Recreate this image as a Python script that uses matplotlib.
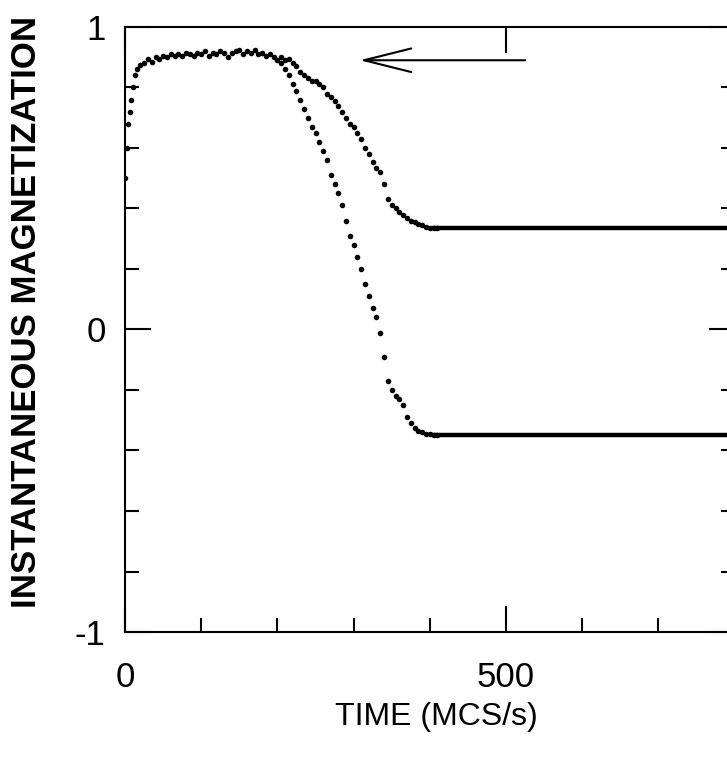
import numpy as np
import matplotlib
matplotlib.use('Agg')
import matplotlib.pyplot as plt
from matplotlib.ticker import MultipleLocator

plt.rcParams['font.family'] = ['Liberation Sans', 'DejaVu Sans']

# common part of both runs (before the field reversal separates them)
t_common = [0, 2, 4, 6, 8, 10, 13, 16, 20, 25, 30, 35, 40, 45, 50, 55, 60, 65,
            70, 75, 80, 85, 90, 95, 100, 105, 110, 115, 120, 125, 130, 135,
            140, 145, 150, 155, 160, 165, 170, 175, 180, 185, 190, 195, 200]
m_common = [0.50, 0.60, 0.68, 0.72, 0.76, 0.80, 0.84, 0.86, 0.875, 0.88, 0.895,
            0.885, 0.90, 0.895, 0.905, 0.90, 0.91, 0.905, 0.91, 0.905, 0.915,
            0.91, 0.905, 0.915, 0.91, 0.92, 0.905, 0.915, 0.91, 0.92, 0.915,
            0.90, 0.915, 0.92, 0.925, 0.91, 0.92, 0.915, 0.925, 0.91, 0.915,
            0.905, 0.91, 0.90, 0.89]

# after separation
t_split = [205, 210, 215, 220, 225, 230, 235, 240, 245, 250, 255, 260, 265,
           270, 275, 280, 285, 290, 295, 300, 305, 310, 315, 320, 325, 330,
           335, 340, 345, 350, 355, 360, 365, 370, 375, 380, 385, 390, 395,
           400, 405, 410]
m_upper = [0.90, 0.89, 0.895, 0.88, 0.87, 0.85, 0.84, 0.83, 0.82, 0.82, 0.81,
           0.80, 0.78, 0.77, 0.755, 0.74, 0.72, 0.70, 0.68, 0.67, 0.65, 0.63,
           0.60, 0.58, 0.555, 0.535, 0.52, 0.48, 0.43, 0.41, 0.40, 0.39, 0.38,
           0.37, 0.36, 0.355, 0.35, 0.345, 0.34, 0.337, 0.335, 0.335]
m_lower = [0.88, 0.86, 0.84, 0.81, 0.79, 0.76, 0.73, 0.70, 0.67, 0.65, 0.62,
           0.59, 0.56, 0.51, 0.48, 0.45, 0.41, 0.36, 0.31, 0.28, 0.24, 0.20,
           0.15, 0.11, 0.07, 0.04, -0.01, -0.09, -0.17, -0.20, -0.22, -0.23,
           -0.25, -0.29, -0.31, -0.325, -0.335, -0.34, -0.345, -0.347, -0.35,
           -0.35]

# saturated tails
t_tail = [405, 800]
m_tail_upper = [0.335, 0.335]
m_tail_lower = [-0.35, -0.35]

fig = plt.figure(figsize=(7.27, 7.62), dpi=100)
ax = fig.add_axes([0.172, 0.1706, 0.8385, 0.794])

ax.plot(t_common, m_common, 'o', color='black', ms=4, mec='none')
ax.plot(t_split, m_upper, 'o', color='black', ms=4, mec='none')
ax.plot(t_split, m_lower, 'o', color='black', ms=4, mec='none')
ax.plot(t_tail, m_tail_upper, '-', color='black', lw=3.2)
ax.plot(t_tail, m_tail_lower, '-', color='black', lw=3.2)

# arrow showing the direction of the sweep
ax.annotate('', xy=(308, 0.89), xytext=(525, 0.89),
            arrowprops=dict(arrowstyle='->,head_length=3.4,head_width=0.85',
                            lw=1.5, color='black', mutation_scale=10,
                            shrinkA=0, shrinkB=0))

ax.set_xlim(0, 800)
ax.set_ylim(-1, 1)
ax.xaxis.set_major_locator(MultipleLocator(500))
ax.xaxis.set_minor_locator(MultipleLocator(100))
ax.yaxis.set_major_locator(MultipleLocator(1))
ax.yaxis.set_minor_locator(MultipleLocator(0.2))
ax.yaxis.set_major_formatter(plt.FuncFormatter(lambda v, p: '%d' % round(v)))

ax.tick_params(which='major', direction='in', length=19, width=1.5,
               top=True, right=True, labelsize=25)
ax.tick_params(which='minor', direction='in', length=10, width=1.5,
               top=False, right=True)
ax.tick_params(axis='y', which='major', pad=14)
ax.tick_params(axis='x', which='major', pad=21)
for s in ax.spines.values():
    s.set_linewidth(1.5)

fig.text(27 / 727, 1 - 312 / 762, 'INSTANTANEOUS MAGNETIZATION', rotation=90,
         ha='center', va='center', fontsize=25, fontweight='bold')
fig.text(436 / 727, 1 - 717 / 762, 'TIME (MCS/s)', ha='center', va='center',
         fontsize=23)

fig.savefig('out.png', dpi=100)
